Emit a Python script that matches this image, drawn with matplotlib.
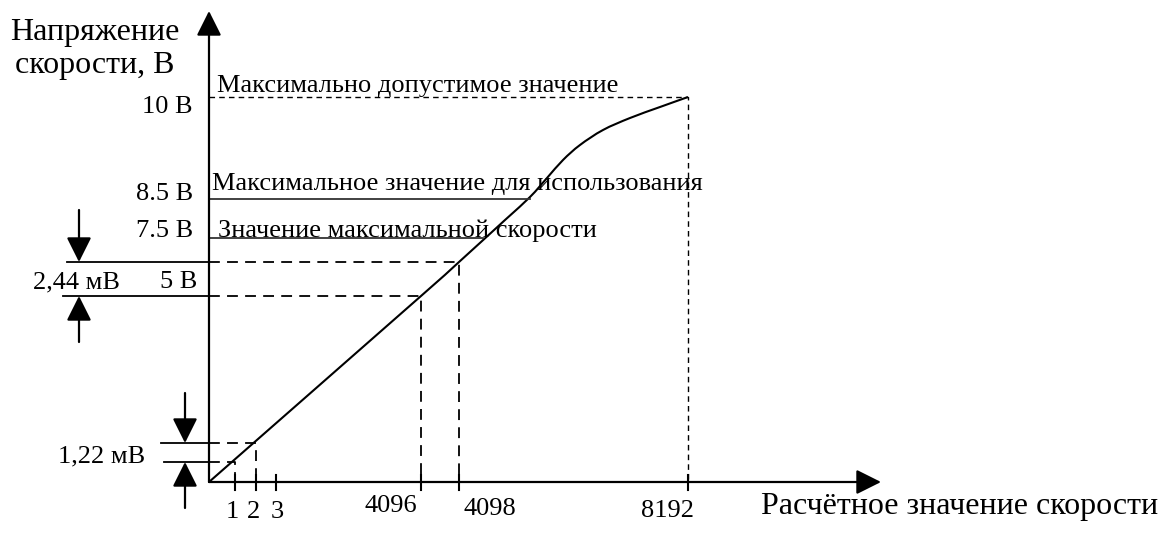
import matplotlib.pyplot as plt
from matplotlib.path import Path
from matplotlib.patches import PathPatch

plt.rcParams['font.family'] = ['Liberation Serif', 'DejaVu Serif']

# schematic diagram, coordinates are offsets from the axis origin (px-like units)
curve_x = [0, 212, 250, 296, 321, 338, 354, 371, 394, 421, 451, 479]
curve_y = [0, 186, 220, 262, 285, 304, 322, 337, 352, 364, 375, 385]

x_tick_labels = ['1', '2', '3', '4096', '4098', '8192']
x_tick_pos = [26, 47, 67, 212, 250, 479]

level_labels = ['10 В', '8.5 В', '7.5 В', '5 В']
level_pos = [385, 283, 244, 186]
level_notes = ['Максимально допустимое значение',
               'Максимальное значение для использования',
               'Значение максимальной скорости']

y_title = ['Напряжение', 'скорости, В']
x_title = 'Расчётное значение скорости'


def smooth_path(xs, ys):
    """Catmull-Rom through the given points, drawn as cubic Bezier segments."""
    pts = list(zip(xs, ys))
    verts = [pts[0]]
    codes = [Path.MOVETO]
    for i in range(len(pts) - 1):
        p0 = pts[max(i - 1, 0)]
        p1 = pts[i]
        p2 = pts[i + 1]
        p3 = pts[min(i + 2, len(pts) - 1)]
        c1 = (p1[0] + (p2[0] - p0[0]) / 6, p1[1] + (p2[1] - p0[1]) / 6)
        c2 = (p2[0] - (p3[0] - p1[0]) / 6, p2[1] - (p3[1] - p1[1]) / 6)
        verts += [c1, c2, p2]
        codes += [Path.CURVE4] * 3
    return Path(verts, codes)


fig = plt.figure(figsize=(11.66, 5.38), dpi=100)
ax = fig.add_axes([0, 0, 1, 1])
ax.set_xlim(-209, 1166 - 209)
ax.set_ylim(482 - 538, 482)
ax.axis('off')

fs = 19
arrow = dict(arrowstyle='-|>', mutation_scale=38, lw=1.6, color='black',
             shrinkA=0, shrinkB=0)

# axes
ax.annotate('', xy=(0, 471), xytext=(0, 0), arrowprops=arrow)
ax.annotate('', xy=(672, 0), xytext=(0, 0), arrowprops=arrow)
ax.text(-199, 442, y_title[0], fontsize=23, va='baseline')
ax.text(-194, 409, y_title[1], fontsize=23, va='baseline')
ax.text(751, -32, x_title, fontsize=23, ha='center', va='baseline')

# x ticks
tick_dx = [-3, -2, 1, -30, 31, -20]
tick_base = [-36, -36, -36, -30, -33, -35]
for p, lab, dx, by in zip(x_tick_pos, x_tick_labels, tick_dx, tick_base):
    ax.plot([p, p], [-8, 7], color='black', lw=1.5)
    ax.text(p + dx, by, lab, fontsize=fs, ha='center', va='baseline')

# curve
ax.add_patch(PathPatch(smooth_path(curve_x, curve_y), fill=False,
                       edgecolor='black', lw=1.5))

# 10 V maximum
ax.plot([0, curve_x[-1], curve_x[-1]], [level_pos[0], level_pos[0], 0],
        color='black', lw=1.0, ls=(0, (4, 3)))
ax.text(-17, 369, level_labels[0], fontsize=fs, ha='right', va='baseline')
ax.text(8, 390, level_notes[0], fontsize=fs, va='baseline')

# 8.5 V and 7.5 V levels
ax.plot([0, 321], [level_pos[1], level_pos[1]], color='#333333', lw=1.3)
ax.text(-16, 282, level_labels[1], fontsize=fs, ha='right', va='baseline')
ax.text(3, 292, level_notes[1], fontsize=fs, va='baseline')
ax.plot([0, 274], [level_pos[2], level_pos[2]], color='#333333', lw=1.3)
ax.text(-16, 245, level_labels[2], fontsize=fs, ha='right', va='baseline')
ax.text(9, 245, level_notes[2], fontsize=fs, va='baseline')

# 5 V step
dash = (0, (6, 4))
ax.plot([0, 212, 212], [186, 186, 0], color='black', lw=1.3, ls=dash)
ax.plot([0, 250, 250], [220, 220, 0], color='black', lw=1.3, ls=dash)
ax.plot([-146, 0], [186, 186], color='black', lw=1.3)
ax.plot([-142, 0], [220, 220], color='black', lw=1.3)
ax.annotate('', xy=(-130, 220), xytext=(-130, 272), arrowprops=arrow)
ax.annotate('', xy=(-130, 186), xytext=(-130, 140), arrowprops=arrow)
ax.text(-12, 194, level_labels[3], fontsize=fs, ha='right', va='baseline')
ax.text(-133, 194, '2,44 мВ', fontsize=fs, ha='center', va='baseline')

# first step
ax.plot([0, 26, 26], [20, 20, 0], color='black', lw=1.3, ls=dash)
ax.plot([0, 47, 47], [39, 39, 0], color='black', lw=1.3, ls=dash)
ax.plot([-45, 0], [20, 20], color='black', lw=1.3)
ax.plot([-48, 0], [39, 39], color='black', lw=1.3)
ax.annotate('', xy=(-24, 39), xytext=(-24, 89), arrowprops=arrow)
ax.annotate('', xy=(-24, 20), xytext=(-24, -26), arrowprops=arrow)
ax.text(-107, 20, '1,22 мВ', fontsize=fs, ha='center', va='baseline')

fig.savefig('out.png', dpi=100)
